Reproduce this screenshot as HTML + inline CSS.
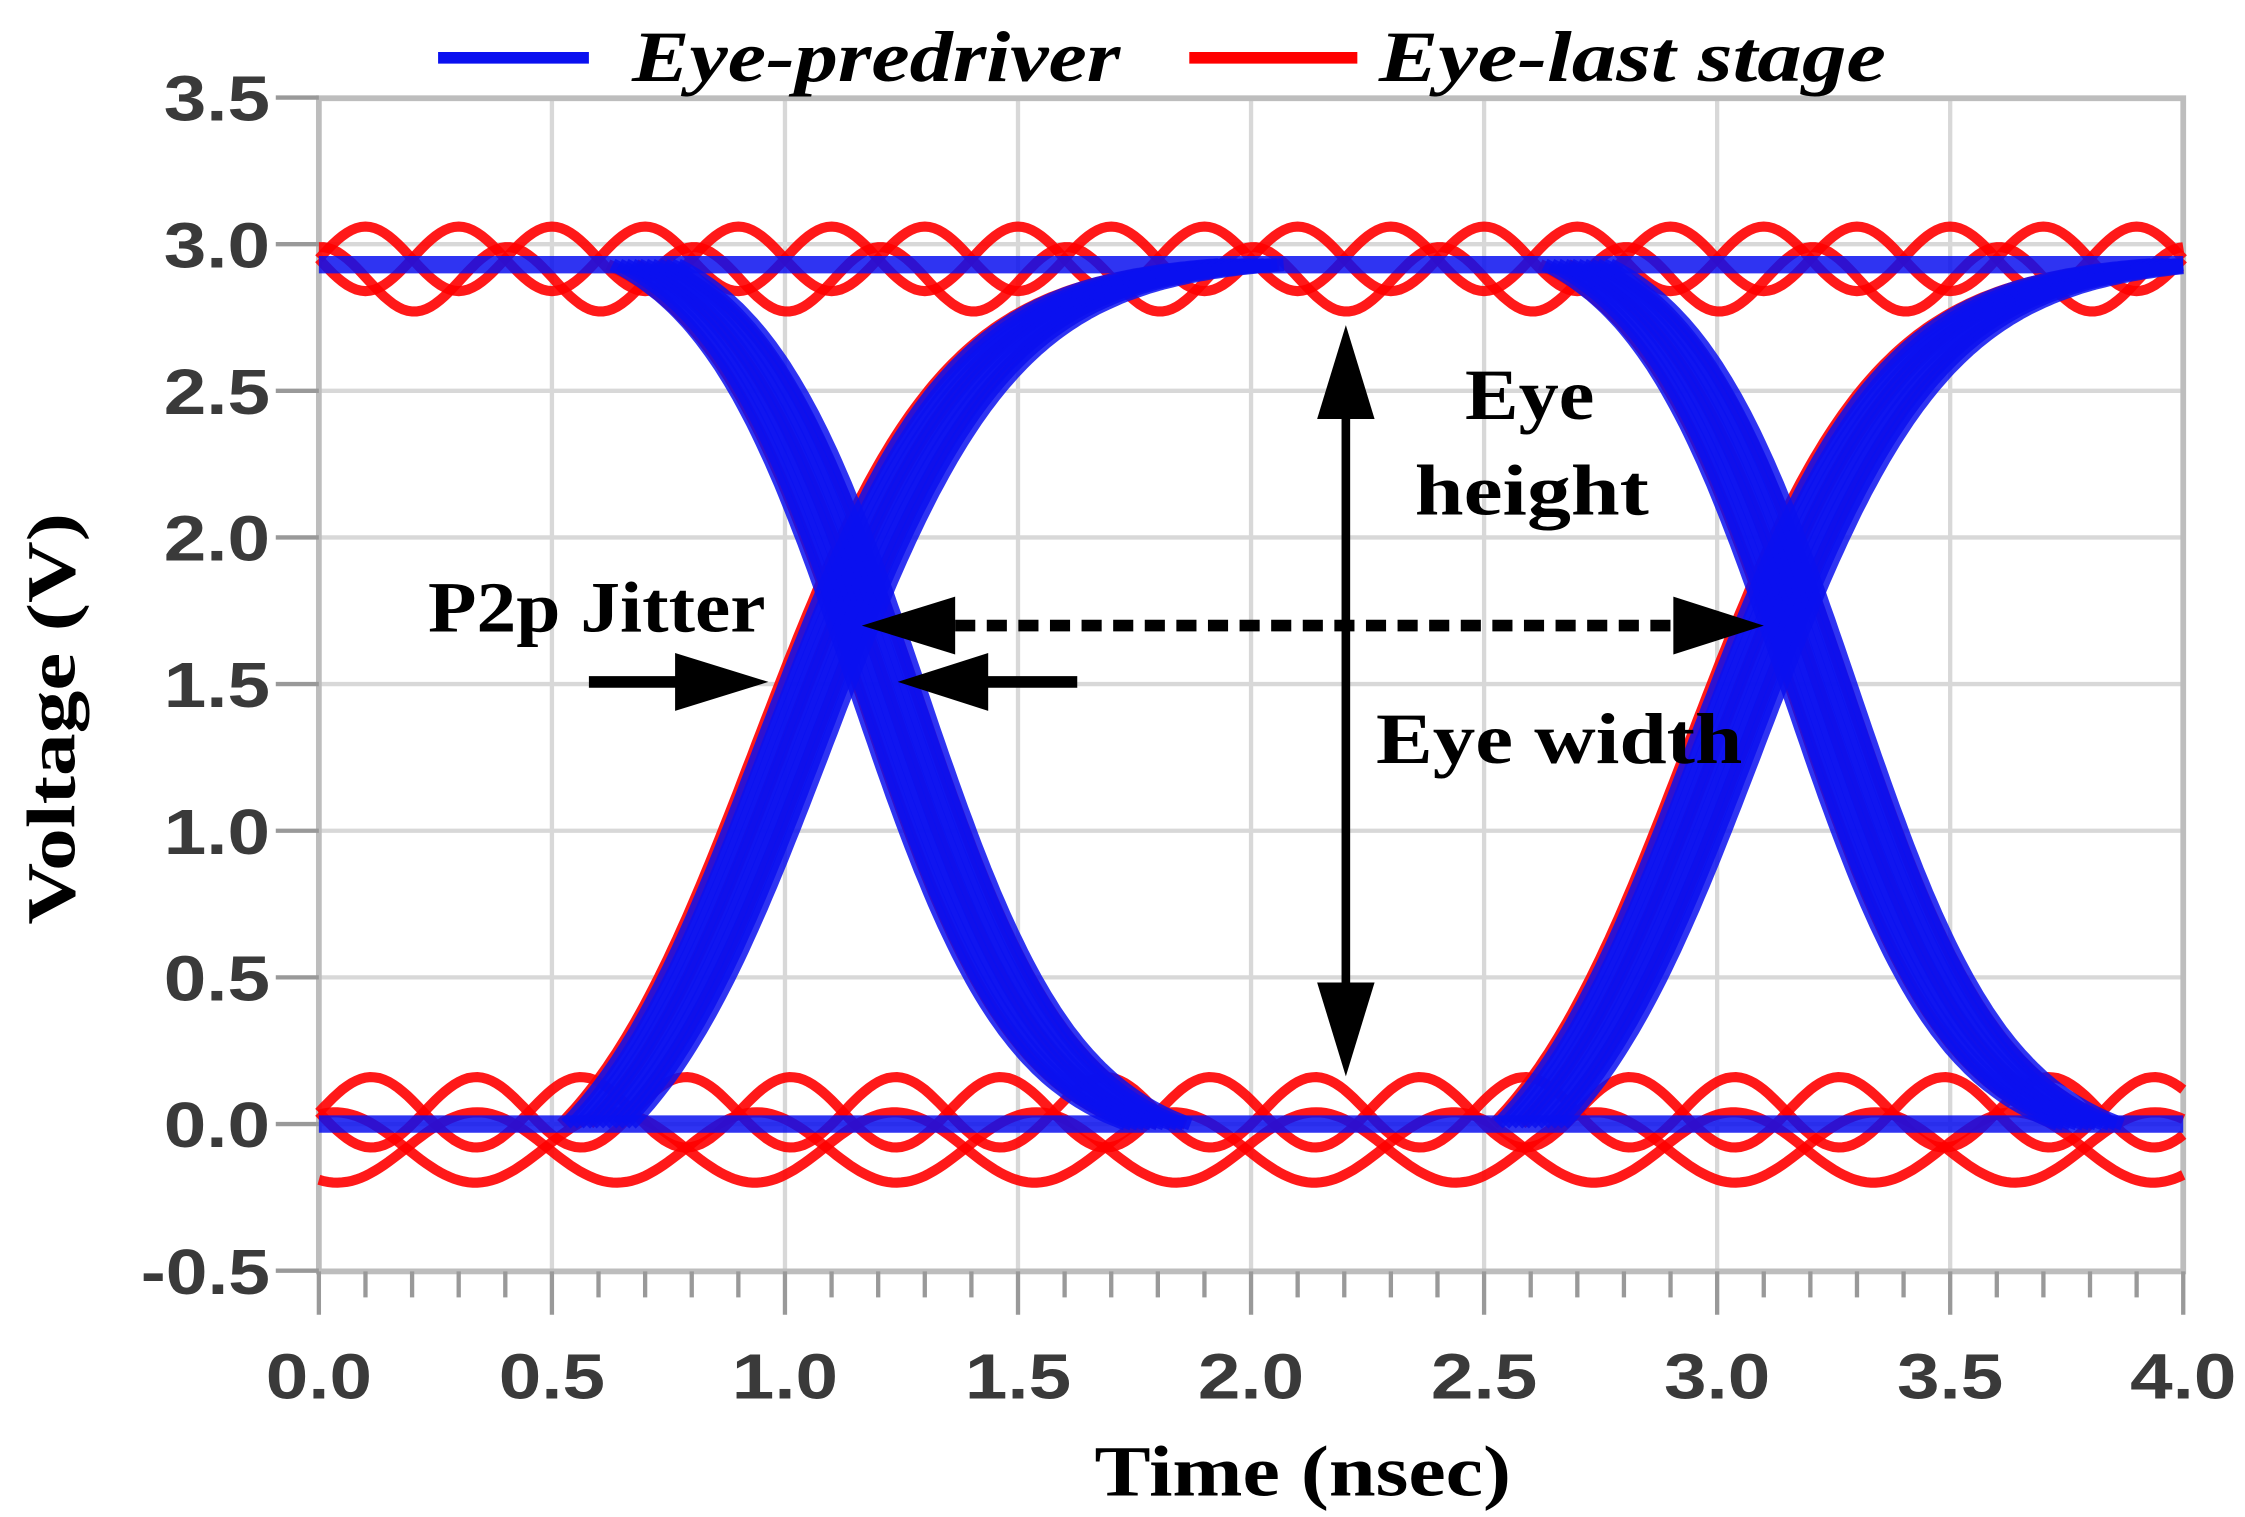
<!DOCTYPE html>
<html><head><meta charset="utf-8"><style>
html,body{margin:0;padding:0;background:#fff;}
svg{display:block;}
</style></head><body>
<svg id="s" width="2245" height="1517" viewBox="0 0 1563 1050" preserveAspectRatio="none" xmlns="http://www.w3.org/2000/svg">
<rect width="1563" height="1050" fill="#fff"/>
<g id="grid" stroke="#d8d8d8" stroke-width="3"></g>
<rect x="222" y="68" width="1298" height="812" fill="none" stroke="#bdbdbd" stroke-width="4"/>
<g id="ticks" stroke="#999" stroke-width="3"></g>
<g id="red" fill="none" stroke="#ff0000" stroke-width="8" stroke-opacity="0.9"></g>
<g id="blue" fill="none" stroke="#0a10f0" stroke-width="8" stroke-opacity="0.85"></g>
<g id="lab" font-family="Liberation Sans, sans-serif" font-weight="bold" font-size="44" fill="#3a3a3a"></g>
<line x1="305" y1="40" x2="410" y2="40" stroke="#0a10f0" stroke-width="8"/>
<text x="440" y="56" textLength="340" lengthAdjust="spacingAndGlyphs" font-family="Liberation Serif, serif" font-style="italic" font-weight="bold" font-size="50">Eye-predriver</text>
<line x1="828" y1="40" x2="945" y2="40" stroke="#ff0000" stroke-width="8"/>
<text x="960" y="56" textLength="353" lengthAdjust="spacingAndGlyphs" font-family="Liberation Serif, serif" font-style="italic" font-weight="bold" font-size="50">Eye-last stage</text>
<text x="762" y="1035" textLength="290" lengthAdjust="spacingAndGlyphs" font-family="Liberation Serif, serif" font-weight="bold" font-size="50">Time (nsec)</text>
<text transform="translate(52,640) rotate(-90)" textLength="285" lengthAdjust="spacingAndGlyphs" font-family="Liberation Serif, serif" font-weight="bold" font-size="48">Voltage (V)</text>
<g font-family="Liberation Serif, serif" font-weight="bold" font-size="50" fill="#000">
<text x="1020" y="290" textLength="90" lengthAdjust="spacingAndGlyphs">Eye</text>
<text x="985" y="356" textLength="163" lengthAdjust="spacingAndGlyphs">height</text>
<text x="958" y="528" textLength="255" lengthAdjust="spacingAndGlyphs">Eye width</text>
<text x="298" y="437" textLength="235" lengthAdjust="spacingAndGlyphs">P2p Jitter</text>
</g>
<g fill="#000" stroke="#000">
<line x1="937" y1="280" x2="937" y2="690" stroke-width="6"/>
<polygon points="937,225 917,290 957,290" stroke="none"/>
<polygon points="937,745 917,680 957,680" stroke="none"/>
<line x1="665" y1="433" x2="1165" y2="433" stroke-width="8" stroke-dasharray="14,8"/>
<polygon points="600,433 665,413 665,453" stroke="none"/>
<polygon points="1228,433 1165,413 1165,453" stroke="none"/>
<line x1="410" y1="472" x2="475" y2="472" stroke-width="8"/>
<polygon points="535,472 470,452 470,492" stroke="none"/>
<line x1="680" y1="472" x2="750" y2="472" stroke-width="8"/>
<polygon points="625,472 688,452 688,492" stroke="none"/>
</g>
</svg>
<script>
var NS="http://www.w3.org/2000/svg";
function X(t){return 222+324.5*t;}
function Y(v){return 778-203*v;}
function el(g,tag,a,txt){var e=document.createElementNS(NS,tag);for(var k in a)e.setAttribute(k,a[k]);if(txt)e.textContent=txt;document.getElementById(g).appendChild(e);return e;}
for(var i=1;i<8;i++){el("grid","line",{x1:X(i*0.5),y1:68,x2:X(i*0.5),y2:880});}
for(var i=1;i<8;i++){var v=-0.5+i*0.5;el("grid","line",{x1:222,y1:Y(v),x2:1520,y2:Y(v)});}
for(var i=0;i<=40;i++){var t=i*0.1;var maj=i%5==0;el("ticks","line",{x1:X(t),y1:880,x2:X(t),y2:maj?910:898});}
for(var i=0;i<=8;i++){var v=-0.5+i*0.5;el("ticks","line",{x1:192,y1:Y(v),x2:222,y2:Y(v)});
 el("lab","text",{x:188,y:Y(v)+16,"text-anchor":"end",textLength:v<0?90:74,lengthAdjust:"spacingAndGlyphs"},v.toFixed(1));}
for(var i=0;i<=8;i++){var t=i*0.5;el("lab","text",{x:X(t),y:968,"text-anchor":"middle",textLength:74,lengthAdjust:"spacingAndGlyphs"},t.toFixed(1));}
function sig(x){return 1/(1+Math.exp(-x));}
function seg(g,f,a,b,w){var d="";for(var t=a;t<=b+1e-6;t+=0.01){d+=(d?"L":"M")+X(t).toFixed(1)+","+Y(f(t)).toFixed(1);}el(g,"path",{d:d,"stroke-width":w});}
var H=2.93;
function tr(t,a,b,c,k){var s0=sig((a-c)/k),s1=sig((b-c)/k);return (sig((t-c)/k)-s0)/(s1-s0);}
[0,Math.PI,1.5].forEach(function(p,i){
 seg("red",function(t){return H+(i==2?-0.05:0.02)+0.11*Math.sin(2*Math.PI*t/0.4+p);},0,4,7);
});
[[0,0.45,0.04],[Math.PI,0.45,0.04],[1.2,0.6,-0.08],[4.3,0.6,-0.08]].forEach(function(q){
 seg("red",function(t){return q[2]+0.12*Math.sin(2*Math.PI*t/q[1]+q[0]);},0,4,7);
});
[0,2].forEach(function(s){
 for(var j=0;j<3;j++){var o=(j-1)*0.06+s;
  seg("red",function(t){return H*tr(t,0.58+o,2.0+o,1.0+o,0.2);},0.58+o,Math.min(2.0+o,4),8);
  seg("red",function(t){return H*(1-tr(t,0.68+o,1.8+o,1.22+o,0.17));},0.68+o,Math.min(1.8+o,4),8);
 }
});
el("blue","line",{x1:222,y1:Y(H),x2:1520,y2:Y(H),"stroke-width":12});
el("blue","line",{x1:222,y1:Y(0),x2:1520,y2:Y(0),"stroke-width":12});
[0,2].forEach(function(s){
 for(var j=0;j<11;j++){var o=(j-5)*0.014+s;
  seg("blue",function(t){return H*tr(t,0.6+o,2.0+o,1.02+o,0.2);},0.6+o,Math.min(2.0+o,4),9);
  seg("blue",function(t){return H*(1-tr(t,0.7+o,1.8+o,1.22+o,0.17));},0.7+o,Math.min(1.8+o,4),9);
 }
});
</script>
</body></html>
